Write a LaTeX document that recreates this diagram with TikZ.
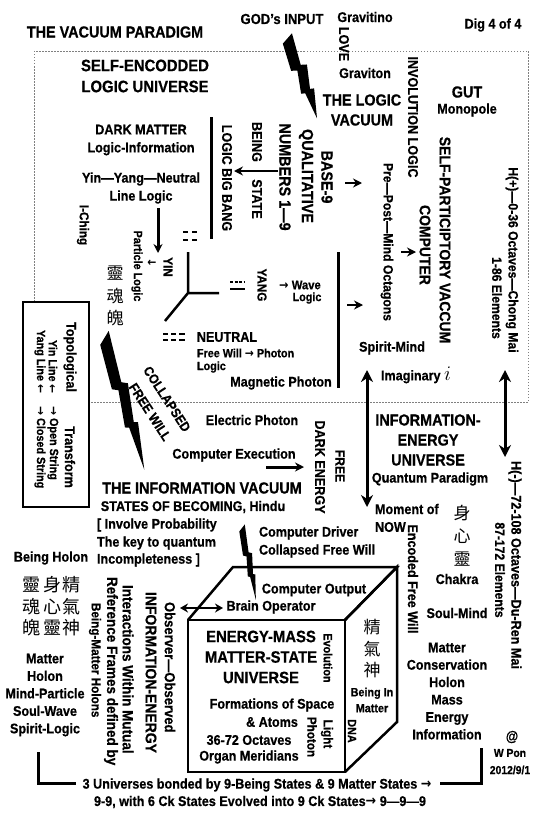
\documentclass[tikz,border=0pt]{standalone}
\usepackage{fontspec}
\setmainfont{Liberation Sans}[FakeStretch=0.9, BoldFeatures={FakeBold=0.6}]
\newfontfamily\cjk{Noto Sans CJK TC}
\newfontfamily\arrf{DejaVu Sans}[FakeStretch=0.9]
\usetikzlibrary{arrows.meta}
\newcommand\fz[1]{\fontsize{#1}{#1}\selectfont\bfseries}
\newcommand\fzs[2]{\fontsize{#1}{#2}\selectfont\bfseries}
\newcommand\rarr{{\arrf\bfseries →}}
\newcommand\larr{{\arrf\bfseries ←}}
\newcommand\mybolt[5]{%
\begin{scope}[shift={(#1,#2)},rotate=#3,yscale=#4,xscale=#5]
\fill[black] (-8,5) -- (4,-3) -- (2,35) -- (8,37) -- (3,65) -- (7,66) -- (0,100) -- (-3,68) -- (-7,67) -- (-3,40) -- (-9,38) -- cycle;
\end{scope}}
\tikzset{
 txt/.style={inner sep=0pt, outer sep=0pt, align=center},
 vt/.style={txt, rotate=-90},
 thk/.style={line width=3pt},
 arr/.style={line width=2.5pt, -{Stealth[length=9pt,width=9pt]}},
 darr/.style={line width=3pt, {Stealth[length=12pt,width=12pt]}-{Stealth[length=12pt,width=12pt]}},
 dbox/.style={gray, line width=0.8pt, dash pattern=on 1.5pt off 1.5pt},
 cube/.style={line width=2.5pt, line join=miter},
 ch/.style={txt, font=\cjk\fontsize{17}{17}\selectfont},
}
\begin{document}
\begin{tikzpicture}[x=1pt,y=-1pt]
\fill[white] (0,0) rectangle (537,816);
\useasboundingbox (0,0) rectangle (537,816);

% dashed logic universe box
\draw[dbox] (34,51) rectangle (528,402);

% ---- top
\node[txt,font=\fz{16}] (title) at (115,32) {THE VACUUM PARADIGM};
\node[txt,font=\fz{14.5}] (god) at (282,19) {GOD's INPUT};
\node[txt,font=\fz{14}] (gravitino) at (365,17) {Gravitino};
\node[vt,font=\fz{14}] (love) at (344,44) {LOVE};
\node[txt,font=\fz{14}] (graviton) at (365,73) {Graviton};
\node[txt,font=\fz{14}] (dig) at (493,25) {Dig 4 of 4};
\mybolt{289}{37}{19}{0.86}{1.0}

\node[txt,font=\fzs{16.5}{21}] (selfenc) at (145,76) {SELF-ENCODDED\\LOGIC UNIVERSE};
\node[txt,font=\fzs{14}{18}] (dark) at (141,140) {DARK MATTER\\Logic-Information};
\node[txt,font=\fzs{14}{18}] (yyn) at (141,188) {Yin—Yang—Neutral\\Line Logic};

\coordinate (v1a) at (211,117); \coordinate (v1b) at (211,239);
\draw[thk] (v1a) -- (v1b);
\node[vt,font=\fz{14}] (lbb) at (227,178) {LOGIC BIG BANG};
\node[vt,font=\fz{14}] (being) at (257,142) {BEING};
\node[vt,font=\fz{14}] (state) at (257,199) {STATE};
\coordinate (a1s) at (278,171); \coordinate (a1e) at (234,171);
\draw[arr,line width=2pt] (a1s) -- (a1e);
\node[vt,font=\fz{16}] (numbers) at (285,177) {NUMBERS 1—9};
\node[vt,font=\fz{16}] (qual) at (306,176) {QUALITATIVE};
\node[vt,font=\fz{16}] (base) at (327,177) {BASE-9};
\coordinate (a2s) at (345,183); \coordinate (a2e) at (362,183);
\draw[arr] (a2s) -- (a2e);

\node[txt,font=\fzs{16}{20}] (logvac) at (362,110) {THE LOGIC\\VACUUM};
\node[vt,font=\fz{14}] (invol) at (413,117) {INVOLUTION LOGIC};
\node[txt,font=\fz{16}] (gut) at (467,92) {GUT};
\node[txt,font=\fz{14}] (mono) at (467,110) {Monopole};
\node[vt,font=\fz{13.5}] (prepost) at (387,242) {Pre—Post—Mind Octagons};
\coordinate (a3s) at (401,252); \coordinate (a3e) at (416,252);
\draw[arr] (a3s) -- (a3e);
\node[vt,font=\fz{15.5}] (computer) at (425,245) {COMPUTER};
\node[vt,font=\fz{15.5}] (spc) at (445,240) {SELF-PARTICIPTORY VACCUM};
\node[vt,font=\fz{13.5}] (hplus) at (512,260) {H(+)—0-36 Octaves—Chong Mai};
\node[vt,font=\fz{13.5}] (el1) at (497,298) {1-86 Elements};

% ---- yin yang diagram
\coordinate (d1s) at (158,208); \coordinate (d1e) at (158,253);
\draw[arr,line width=3pt] (d1s) -- (d1e);
\node[vt,font=\fz{12}] (particle) at (137,266) {Particle Logic};
\node[txt,font=\fz{12}] (parr) at (152,263) {\larr};
\node[vt,font=\fz{13}] (yin) at (168,267) {YIN};
\draw[line width=2pt] (183,232)--(188,232) (192,232)--(197,232) (183,240)--(188,240) (192,240)--(197,240);
\coordinate (yc) at (188,293);
\coordinate (yt) at (188,252); \coordinate (yr) at (219,293); \coordinate (yl) at (165,321);
\draw[line width=2.5pt] (yt) -- (yc) -- (yr) (yc) -- (yl);
\node[vt,font=\fz{13}] (yang) at (262,285) {YANG};
\draw[line width=1.5pt, dash pattern=on 3pt off 1.5pt] (230,282)--(245,282);
\draw[line width=1.5pt] (230,289)--(245,289);
\node[txt,font=\fz{12.5}] (wave) at (300,285) {\rarr\ Wave};
\node[txt,font=\fz{12}] (wlogic) at (307,298) {Logic};
\draw[line width=1.7pt] (163,334)--(168,334) (171,334)--(176,334) (179,334)--(185,334);
\draw[line width=1.2pt] (163,340)--(168,340) (171,340)--(176,340) (179,340)--(185,340);
\node[txt,font=\fz{14}] (neutral) at (227,337) {NEUTRAL};
\node[txt,font=\fz{12},anchor=west] (fwp) at (197,353) {Free Will \rarr\ Photon};
\node[txt,font=\fz{12},anchor=west] (plogic) at (197,367) {Logic};

\coordinate (v2a) at (338,252); \coordinate (v2b) at (338,388);
\draw[thk] (v2a) -- (v2b);
\coordinate (a4s) at (347,305); \coordinate (a4e) at (363,305);
\draw[arr] (a4s) -- (a4e);
\node[txt,font=\fz{14}] (magn) at (281,383) {Magnetic Photon};
\node[txt,font=\fz{14}] (spirit) at (392,348) {Spirit-Mind};
\node[txt,font=\fz{14}] (imag) at (416,375) {Imaginary \fontsize{22}{22}\selectfont$i$};

\node[ch] (c1) at (115,273) {靈};
\node[ch] (c2) at (115,296) {魂};
\node[ch] (c3) at (115,318) {魄};
\node[vt,font=\fz{13}] (iching) at (83,225) {I-Ching};

% ---- topological box
\draw[line width=2pt, fill=white] (23,302) rectangle (89,507);
\node[vt,font=\fz{14}] (topo) at (70,357) {Topological};
\node[vt,font=\fz{14}] (transf) at (70,457) {Transform};
\node[vt,font=\fz{12},anchor=west] (yinl) at (53,340) {Yin Line \larr};
\node[vt,font=\fz{12},anchor=west] (opens) at (53,406) {\rarr\ Open String};
\node[vt,font=\fz{12},anchor=west] (yangl) at (40,330) {Yang Line \larr};
\node[vt,font=\fz{12},anchor=west] (closs) at (40,406) {\rarr\ Closed String};

% ---- collapsed free will
\mybolt{106}{336}{16}{1.39}{1.0}
\node[txt,font=\fz{13.5},rotate=-57] (coll) at (167,399) {COLLAPSED};
\node[txt,font=\fz{13.5},rotate=-57] (fwill) at (150,412) {FREE WILL};

\node[txt,font=\fz{14}] (elec) at (252,420) {Electric Photon};
\node[txt,font=\fz{14}] (cexec) at (234,455) {Computer Execution};
\coordinate (a5s) at (266,467); \coordinate (a5e) at (304,467);
\draw[arr,line width=3pt] (a5s) -- (a5e);
\node[vt,font=\fz{13.5}] (free) at (340,466) {FREE};
\node[vt,font=\fz{14}] (dener) at (320,467) {DARK ENERGY};

\coordinate (b1s) at (367,370); \coordinate (b1e) at (367,507);
\draw[darr] (b1s) -- (b1e);
\coordinate (b2s) at (505,370); \coordinate (b2e) at (505,457);
\draw[darr] (b2s) -- (b2e);

\node[txt,font=\fzs{16}{20}] (ieu) at (428,440) {INFORMATION-\\ENERGY\\UNIVERSE};
\node[txt,font=\fz{14}] (qpar) at (430,479) {Quantum Paradigm};

\node[txt,font=\fz{16}] (infvac) at (202,488) {THE INFORMATION VACUUM};
\node[txt,font=\fz{14}] (states) at (193,507) {STATES OF BECOMING, Hindu};
\node[txt,font=\fz{14},anchor=west] (inv1) at (97,525) {[ Involve Probability};
\node[txt,font=\fz{14},anchor=west] (inv2) at (97,543) {The key to quantum};
\node[txt,font=\fz{14},anchor=west] (inv3) at (97,560) {Incompleteness ]};

\node[txt,font=\fz{14},anchor=west] (mom1) at (375,509) {Moment of};
\node[txt,font=\fz{14},anchor=west] (mom2) at (375,527) {NOW};
\node[ch] (s1) at (462,513) {身};
\node[ch] (s2) at (462,536) {心};
\node[ch] (s3) at (462,559) {靈};
\node[txt,font=\fz{14}] (chakra) at (457,579) {Chakra};
\node[vt,font=\fz{14}] (efw) at (413,579) {Encoded Free Will};
\node[vt,font=\fz{14}] (hminus) at (515,565) {H(-)—72-108 Octaves—Du-Ren Mai};
\node[vt,font=\fz{13.5}] (el2) at (500,570) {87-172 Elements};
\node[txt,font=\fz{14}] (soulmind) at (457,613) {Soul-Mind};
\node[txt,font=\fzs{14}{17.4}] (matcons) at (447,691) {Matter\\Conservation\\Holon\\Mass\\Energy\\Information};
\node[txt,font=\fz{14}] (at) at (512,737) {@};
\node[txt,font=\fz{11.5}] (wpon) at (510,753) {W Pon};
\node[txt,font=\fz{11.5}] (date) at (510,770) {2012/9/1};

% ---- cube
\draw[cube] (188,620) -- (233,567) -- (397,567) -- (345,620);
\draw[cube] (345,620) -- (397,567) -- (397,722) -- (345,772);
\draw[cube] (188,620) rectangle (345,772);
\mybolt{243}{527}{10}{0.74}{0.55}
\node[txt,font=\fz{14},anchor=west] (cdrv) at (259,533) {Computer Driver};
\node[txt,font=\fz{14},anchor=west] (cfw) at (259,551) {Collapsed Free Will};
\node[txt,font=\fz{14}] (cout) at (314,590) {Computer Output};
\node[txt,font=\fz{14}] (brain) at (271,607) {Brain Operator};
\coordinate (b3s) at (180,608); \coordinate (b3e) at (223,608);
\draw[line width=2.5pt, {Stealth[length=8pt,width=9pt]}-{Stealth[length=8pt,width=9pt]}] (b3s) -- (b3e);

\node[txt,font=\fzs{16.5}{20.5}] (emu) at (261,657) {ENERGY-MASS\\MATTER-STATE\\UNIVERSE};
\node[txt,font=\fz{14}] (form) at (272,705) {Formations of Space};
\node[txt,font=\fz{14}] (atoms) at (272,722) {\& Atoms};
\node[txt,font=\fz{14}] (oct) at (249,740) {36-72 Octaves};
\node[txt,font=\fz{14}] (organ) at (249,757) {Organ Meridians};
\node[vt,font=\fz{12}] (evol) at (328,658) {Evolution};
\node[vt,font=\fz{13}] (light) at (327,734) {Light};
\node[vt,font=\fz{13}] (photon) at (312,737) {Photon};
\node[ch] (j1) at (372,627) {精};
\node[ch] (j2) at (372,649) {氣};
\node[ch] (j3) at (372,670) {神};
\node[txt,font=\fzs{12}{16}] (bim) at (372,700) {Being In\\Matter};
\node[vt,font=\fz{12}] (dna) at (352,731) {DNA};

% ---- left column
\node[txt,font=\fz{14}] (bholon) at (51,558) {Being Holon};
\node[ch,font=\cjk\fontsize{18}{18}\selectfont] (g11) at (31,585) {靈};
\node[ch,font=\cjk\fontsize{18}{18}\selectfont] (g12) at (52,585) {身};
\node[ch,font=\cjk\fontsize{18}{18}\selectfont] (g13) at (71,585) {精};
\node[ch,font=\cjk\fontsize{18}{18}\selectfont] (g21) at (31,607) {魂};
\node[ch,font=\cjk\fontsize{18}{18}\selectfont] (g22) at (52,607) {心};
\node[ch,font=\cjk\fontsize{18}{18}\selectfont] (g23) at (71,607) {氣};
\node[ch,font=\cjk\fontsize{18}{18}\selectfont] (g31) at (31,628) {魄};
\node[ch,font=\cjk\fontsize{18}{18}\selectfont] (g32) at (52,628) {靈};
\node[ch,font=\cjk\fontsize{18}{18}\selectfont] (g33) at (71,628) {神};
\node[txt,font=\fzs{14}{17.5}] (mholon) at (45,695) {Matter\\Holon\\Mind-Particle\\Soul-Wave\\Spirit-Logic};

\node[vt,font=\fz{13},anchor=west] (bmh) at (95,603) {Being-Matter Holons};
\node[vt,font=\fz{15},anchor=west] (ref) at (111,577) {Reference Frames defined by};
\node[vt,font=\fz{15},anchor=west] (inter) at (128,585) {Interactions Within Mutual};
\node[vt,font=\fz{15.5},anchor=west] (iener) at (151,592) {INFORMATION-ENERGY};
\node[vt,font=\fz{14.5},anchor=west] (obs) at (170,602) {Observer—Observed};

% ---- bottom
\coordinate (l1) at (38,752); \coordinate (l2) at (38,783); \coordinate (l3) at (76,783);
\draw[thk] (l1) -- (l2) -- (l3);
\coordinate (r1) at (440,783); \coordinate (r2) at (481,783); \coordinate (r3) at (481,748);
\draw[thk] (r1) -- (r2) -- (r3);
\node[txt,font=\fz{14}] (bot1) at (257,785) {3 Universes bonded by 9-Being States \& 9 Matter States \rarr};
\node[txt,font=\fz{14}] (bot2) at (260,802) {9-9, with 6 Ck States Evolved into 9 Ck States\rarr\ 9—9—9};
\end{tikzpicture}
\end{document}
